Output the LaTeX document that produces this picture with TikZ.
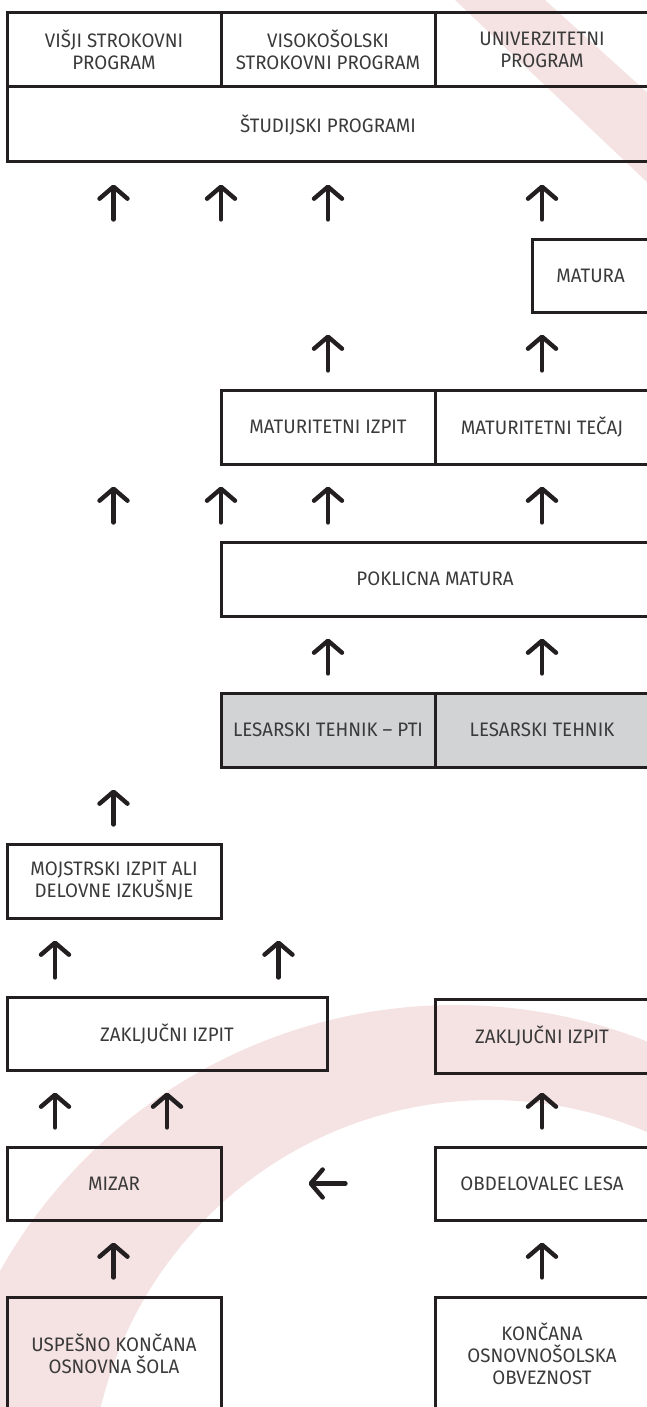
\documentclass[tikz,border=0pt]{standalone}
\usepackage{fontspec}
\setmainfont{Fira Sans}[FakeStretch=0.96]
\usetikzlibrary{arrows.meta}

\definecolor{swoosh}{HTML}{F5E2E2}
\definecolor{greybox}{HTML}{D1D3D4}
\definecolor{ink}{HTML}{231F20}
\definecolor{txt}{HTML}{3A3A3A}

\begin{document}
\begin{tikzpicture}[x=1pt,y=-1pt,
    box/.style={draw=ink, line width=3pt, text=txt, align=center, inner sep=0pt,
      font=\fontsize{19.5}{22}\selectfont, minimum height=74pt},
    uparr/.style={draw=ink, line width=4.4pt, cap=round,
      -{Straight Barb[length=12pt,width=28pt,round]},
      shorten >=21pt, shorten <=18pt}]
  \useasboundingbox (0,0) rectangle (647,1407);
  % pink swoosh behind everything
  \begin{scope}
    \clip (0,0) rectangle (647,1407);
    \fill[swoosh, even odd rule] (455,1527) circle (522pt) (490,1500) circle (400pt);
    \fill[swoosh] (455,0) -- (545,0) -- (650,95) -- (650,185) -- cycle;
  \end{scope}

  % study programmes on top
  \node[box, minimum width=214pt] (visji) at (114,50) {VIŠJI STROKOVNI\\PROGRAM};
  \node[box, minimum width=214pt] (visoko) at (328,50) {VISOKOŠOLSKI\\STROKOVNI PROGRAM};
  \node[box, minimum width=214pt] (univ) at (542,50) {UNIVERZITETNI\\PROGRAM};
  \node[box, minimum width=642pt, minimum height=75pt] (studij) at (328,124.5) {ŠTUDIJSKI PROGRAMI};
  % matura levels
  \node[box, minimum width=117pt, minimum height=73pt] (matura) at (590.5,275.5) {MATURA};
  \node[box, minimum width=214pt] (matizpit) at (328,427) {MATURITETNI IZPIT};
  \node[box, minimum width=214pt] (mattecaj) at (542,427) {MATURITETNI TEČAJ};
  \node[box, minimum width=428pt] (poklic) at (435,579) {POKLICNA MATURA};
  \node[box, fill=greybox, minimum width=214pt] (lespti) at (328,730) {LESARSKI TEHNIK – PTI};
  \node[box, fill=greybox, minimum width=214pt] (lestehnik) at (542,730) {LESARSKI TEHNIK};
  % vocational part
  \node[box, minimum width=214pt] (mojster) at (114,881) {MOJSTRSKI IZPIT ALI\\DELOVNE IZKUŠNJE};
  \node[box, minimum width=320pt, minimum height=73pt] (zaklizpit) at (167,1033.5) {ZAKLJUČNI IZPIT};
  \node[box, minimum width=214pt] (zaklnpi) at (542,1036) {ZAKLJUČNI IZPIT};
  \node[box, minimum width=214pt, minimum height=73pt] (mizar) at (114,1183.5) {MIZAR};
  \node[box, minimum width=214pt, minimum height=73pt] (obdel) at (542,1183.5) {OBDELOVALEC LESA};
  \node[box, minimum width=214pt, minimum height=114pt] (uspesno) at (114,1354) {USPEŠNO KONČANA\\OSNOVNA ŠOLA};
  \node[box, minimum width=214pt, minimum height=114pt] (koncana) at (542,1354) {KONČANA\\OSNOVNOŠOLSKA\\OBVEZNOST};

  % columns of the arrows
  \coordinate (k0) at (55,0);
  \coordinate (k1) at (113.5,0);
  \coordinate (k5) at (167,0);
  \coordinate (k2) at (221,0);
  \coordinate (k6) at (278.5,0);
  \coordinate (k3) at (328,0);
  \coordinate (k4) at (542,0);

  % arrows
  \foreach \k in {k1,k2,k3,k4}
    \draw[uparr] (\k |- matura.north) -- (\k |- studij.south);
  \foreach \k in {k3,k4}
    \draw[uparr] (\k |- matizpit.north) -- (\k |- matura.south);
  \foreach \k in {k1,k2,k3,k4}
    \draw[uparr] (\k |- poklic.north) -- (\k |- matizpit.south);
  \foreach \k in {k3,k4}
    \draw[uparr] (\k |- lespti.north) -- (\k |- poklic.south);
  \draw[uparr] (k1 |- mojster.north) -- (k1 |- lespti.south);
  \foreach \k in {k0,k6}
    \draw[uparr] (\k |- zaklizpit.north) -- (\k |- mojster.south);
  \foreach \k in {k0,k5,k4}
    \draw[uparr] (\k |- mizar.north) -- (\k |- zaklizpit.south);
  \draw[uparr] (k1 |- uspesno.north) -- (k1 |- mizar.south);
  \draw[uparr] (k4 |- koncana.north) -- (k4 |- obdel.south);
  \draw[uparr, shorten >=86pt, shorten <=88pt] (obdel.west) -- (mizar.east);
\end{tikzpicture}
\end{document}
